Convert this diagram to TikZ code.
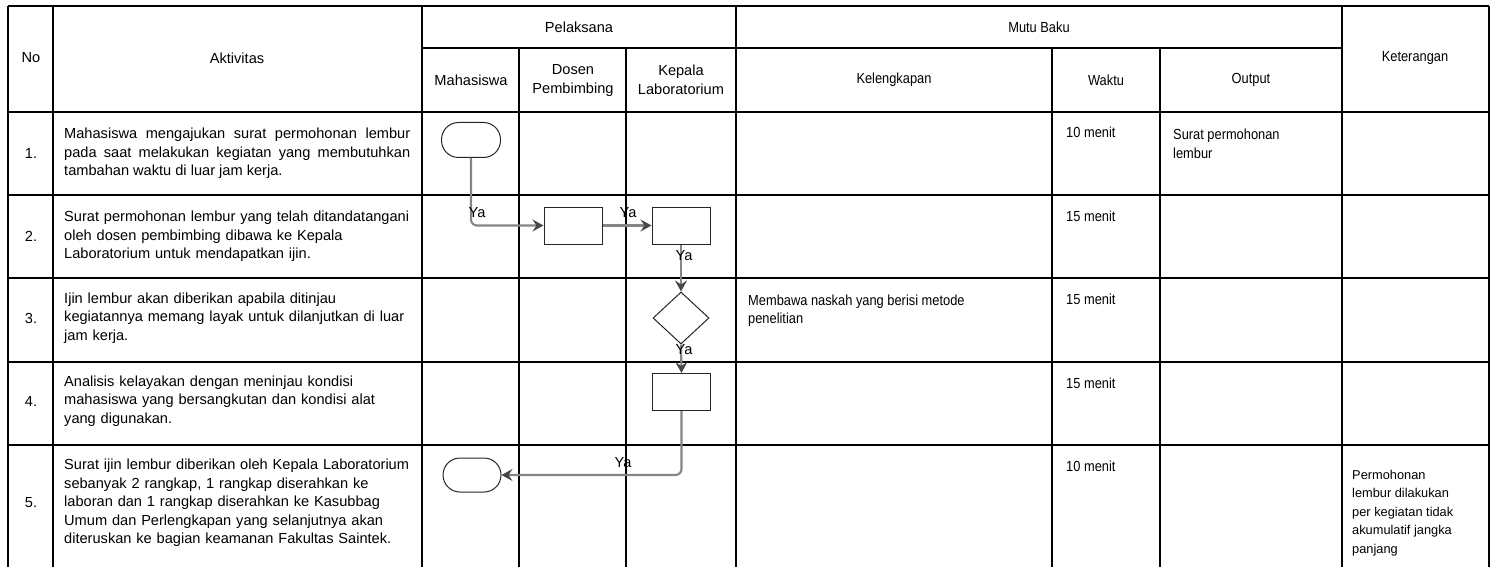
\documentclass[tikz,border=0pt]{standalone}
\usepackage{fontspec}
\setmainfont{Liberation Sans}
\newfontfamily\narrowfont[FakeStretch=0.88]{Liberation Sans}
\usetikzlibrary{arrows.meta,shapes.geometric}
\tikzset{
  gridline/.style={line width=1.3pt, black},
  txt/.style={inner sep=0pt, font=\fontsize{14.6}{18.4}\selectfont, align=left, anchor=west, text width=346pt},
  num/.style={inner sep=0pt, font=\fontsize{14.6}{18.4}\selectfont},
  hdr/.style={inner sep=0pt, font=\fontsize{14.6}{19}\selectfont, align=center},
  nhdr/.style={inner sep=0pt, font=\narrowfont\fontsize{14.6}{19}\selectfont, align=center},
  ncell/.style={inner sep=0pt, font=\narrowfont\fontsize{14.6}{18.4}\selectfont, align=left, anchor=base west},
  kcell/.style={inner sep=0pt, font=\fontsize{12.8}{18.5}\selectfont, align=left, anchor=base west},
  proc/.style={draw=black!85, line width=1pt, fill=white, minimum width=58pt, minimum height=37pt, inner sep=0pt},
  term/.style={draw=black!85, line width=1pt, fill=white, rounded corners=17pt, minimum width=59pt, minimum height=35pt, inner sep=0pt},
  dec/.style={diamond, draw=black!85, line width=1pt, fill=white, minimum width=56pt, minimum height=52pt, inner sep=0pt},
  flow/.style={draw=black!48, line width=2.1pt, -{Stealth[length=11pt,width=12pt,inset=4pt,color=black!72]}},
  ya/.style={inner sep=0pt, font=\fontsize{14.6}{18.4}\selectfont}
}
\begin{document}
\begin{tikzpicture}[x=1pt,y=-1pt]
\useasboundingbox (0,0) rectangle (1497,567);
% grid
\draw[gridline] (8,6) -- (1489,6);
\draw[gridline] (422,48) -- (1342,48);
\foreach \yy in {112,195,278,362,445} \draw[gridline] (8,\yy) -- (1489,\yy);
\foreach \xx in {8,53,422,736,1342,1489} \draw[gridline] (\xx,6) -- (\xx,567);
\foreach \xx in {519,626,1052,1160} \draw[gridline] (\xx,48) -- (\xx,567);
% header
\node[hdr] (hNo) at (31,58) {No};
\node[hdr] (hAkt) at (237,58) {Aktivitas};
\node[hdr] (hPel) at (579,27) {Pelaksana};
\node[hdr] (hMhs) at (471,80) {Mahasiswa};
\node[hdr] (hDos) at (573,80) {Dosen\\Pembimbing};
\node[hdr] (hKep) at (681,80) {Kepala\\Laboratorium};
\node[nhdr] (hMutu) at (1039,27) {Mutu Baku};
\node[nhdr] (hKel) at (894,80) {Kelengkapan};
\node[nhdr] (hWak) at (1106,80) {Waktu};
\node[nhdr] (hOut) at (1251,80) {Output};
\node[nhdr] (hKet) at (1415,58) {Keterangan};
% numbers
\node[num] (n1) at (31,153.5) {1.};
\node[num] (n2) at (31,236.5) {2.};
\node[num] (n3) at (31,318) {3.};
\node[num] (n4) at (31,401) {4.};
\node[num] (n5) at (31,503) {5.};
% activities
\node[txt, align=justify] (a1) at (64,153.5) {Mahasiswa mengajukan surat permohonan lembur\linebreak pada saat melakukan kegiatan yang membutuhkan\linebreak tambahan waktu di luar jam kerja.};
\node[txt] (a2) at (64,236.5) {Surat permohonan lembur yang telah ditandatangani\\oleh dosen pembimbing dibawa ke Kepala\\Laboratorium untuk mendapatkan ijin.};
\node[txt] (a3) at (64,318) {Ijin lembur akan diberikan apabila ditinjau\\kegiatannya memang layak untuk dilanjutkan di luar\\jam kerja.};
\node[txt] (a4) at (64,401) {Analisis kelayakan dengan meninjau kondisi\\mahasiswa yang bersangkutan dan kondisi alat\\yang digunakan.};
\node[txt] (a5) at (64,503) {Surat ijin lembur diberikan oleh Kepala Laboratorium\\sebanyak 2 rangkap, 1 rangkap diserahkan ke\\laboran dan 1 rangkap diserahkan ke Kasubbag\\Umum dan Perlengkapan yang selanjutnya akan\\diteruskan ke bagian keamanan Fakultas Saintek.};
% mutu baku cells (base = baseline of last line)
\node[ncell] (w1) at (1066,138) {10 menit};
\node[ncell] (w2) at (1066,221) {15 menit};
\node[ncell] (w3) at (1066,304) {15 menit};
\node[ncell] (w4) at (1066,388) {15 menit};
\node[ncell] (w5) at (1066,471) {10 menit};
\node[ncell] (o1) at (1173,158.4) {Surat permohonan\\lembur};
\node[ncell] (k3) at (748,323.4) {Membawa naskah yang berisi metode\\penelitian};
\node[kcell] (ket5) at (1352,553) {Permohonan\\lembur dilakukan\\per kegiatan tidak\\akumulatif jangka\\panjang};
% flow shapes
\node[term] (t1) at (471,140) {};
\node[proc] (b2) at (573,225.5) {};
\node[proc] (b3) at (681,225.5) {};
\node[dec] (d3) at (681,318) {};
\node[proc] (b4) at (681.5,392) {};
\node[term, minimum width=58pt, minimum height=34pt] (t2) at (472,475) {};
% connectors
\draw[flow, rounded corners=6pt] (t1.south) |- (b2.west);
\draw[flow] (b2.east) -- (b3.west);
\draw[flow] (b3.south) -- (d3.north);
\draw[flow] (d3.south) -- (b4.north);
\draw[flow, rounded corners=6pt] (b4.south) |- (t2.east);
% labels
\node[ya] (y1) at (477,213) {Ya};
\node[ya] (y2) at (628,213) {Ya};
\node[ya] (y3) at (684,256) {Ya};
\node[ya] (y4) at (684,350) {Ya};
\node[ya] (y5) at (623,463) {Ya};
\end{tikzpicture}
\end{document}
